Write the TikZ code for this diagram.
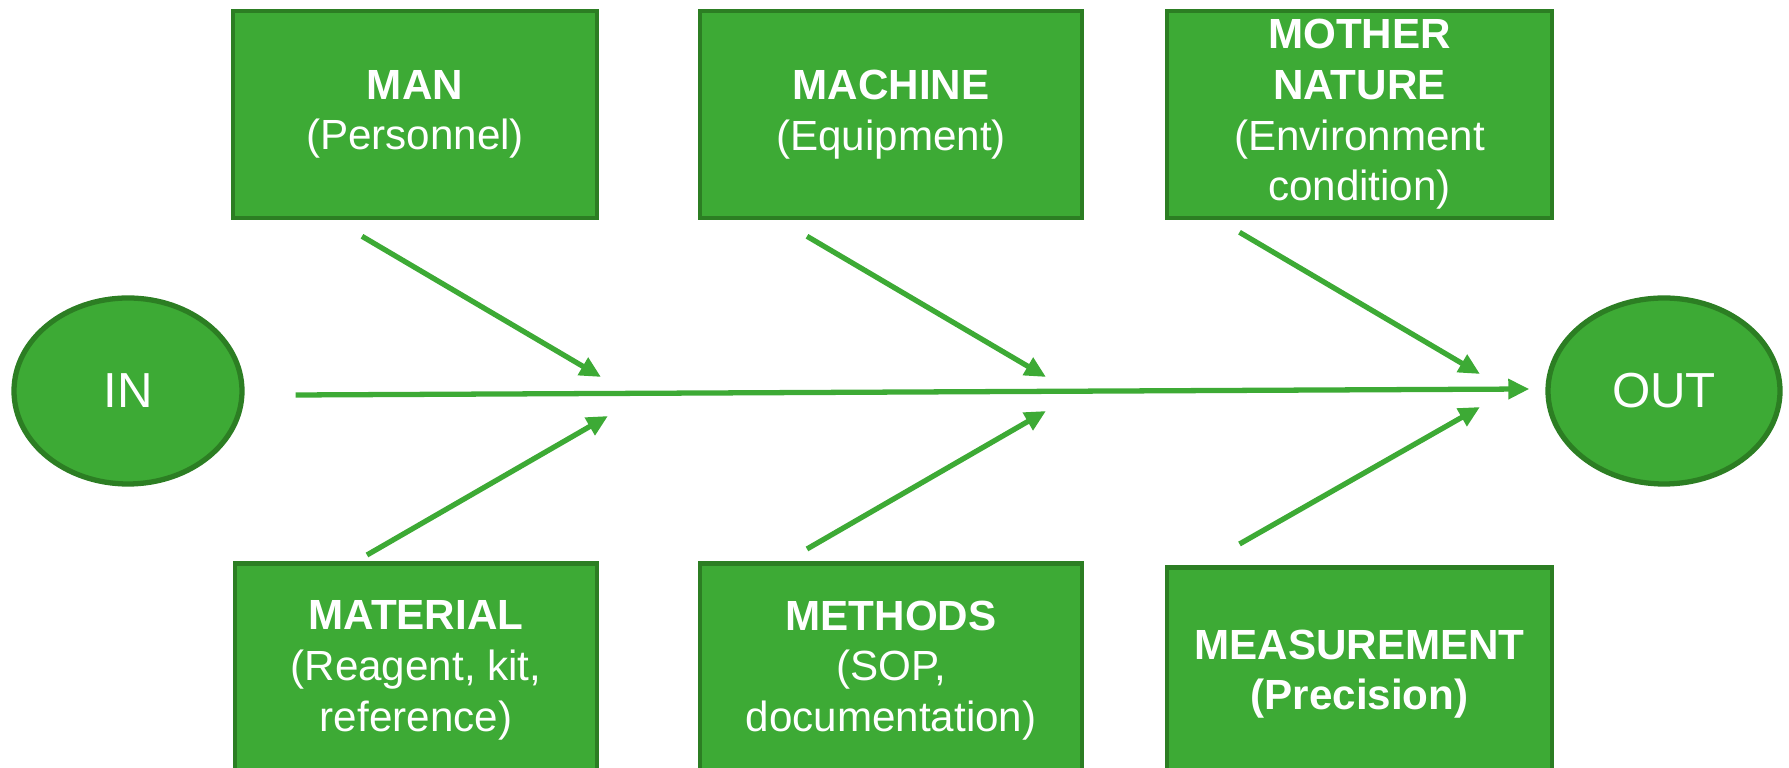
\documentclass[tikz,border=0pt]{standalone}
\usepackage{fontspec}
\setmainfont{Liberation Sans}
\usetikzlibrary{arrows.meta, positioning, shapes.geometric, calc}
\definecolor{cgreen}{HTML}{3DAA35}
\definecolor{cdark}{HTML}{2C7E23}
\tikzset{
  every picture/.style={font=\fontsize{12}{14.4}\selectfont, line width=1.1pt},
  cause/.style={draw=cdark, fill=cgreen, text=white, align=center, line width=1.3pt,
                inner sep=2pt, minimum width=#1, minimum height=2.07cm},
  cause/.default=3.64cm,
  endpt/.style={ellipse, draw=cdark, fill=cgreen, text=white, line width=1.5pt,
                minimum width=2.28cm, minimum height=1.86cm},
  arrow/.style={-{Triangle[length=6pt, width=5.5pt]}, draw=cgreen, line width=1.5pt},
}

\begin{document}
\begin{tikzpicture}
  \clip (0,0) rectangle (17.89,7.68);
  % head and tail of the fish
  \node[endpt] (in) at (1.28,3.77) {\fontsize{14}{16}\selectfont IN};
  \node[endpt, minimum width=2.32cm] (out) at (16.64,3.77) {\fontsize{14}{16}\selectfont OUT};
  \draw[arrow] ($(in.east)+(0.51,-0.04)$) coordinate (sp0) -- ($(out.west)+(-0.16,0.02)$) coordinate (sp1);

  % upper causes
  \node[cause=3.64cm] (man) at (4.15,6.535) {\textbf{MAN}\\(Personnel)};
  \node[cause=3.82cm] (mach) at (8.91,6.535) {\textbf{MACHINE}\\(Equipment)};
  \node[cause=3.85cm] (nat) at (13.595,6.535) {\textbf{MOTHER}\\\textbf{NATURE}\\(Environment\\condition)};

  % lower causes, cut off by the page edge
  \node[cause=3.62cm, anchor=north, minimum height=2.14cm] (mat) at (4.16,2.07)
    {\textbf{MATERIAL}\\(Reagent, kit,\\reference)};
  \node[cause=3.82cm, anchor=north, minimum height=2.14cm] (meth) at (8.91,2.07)
    {\textbf{METHODS}\\(SOP,\\documentation)};
  \node[cause=3.85cm, anchor=north, minimum height=2.14cm] (meas) at (13.595,2.03)
    {\textbf{MEASUREMENT}\\\textbf{(Precision)}};

  % ribs onto the spine
  \coordinate (h1) at (6.01,3.91);
  \coordinate (h2) at (10.46,3.91);
  \coordinate (h3) at (14.80,3.94);
  \coordinate (h4) at (6.08,3.52);
  \coordinate (h5) at (10.46,3.57);
  \coordinate (h6) at (14.80,3.61);
  \draw[arrow] ($(man.south)+(-0.53,-0.16)$) -- (h1);
  \draw[arrow] ($(mach.south)+(-0.84,-0.16)$) -- (h2);
  \draw[arrow] ($(nat.south)+(-1.20,-0.12)$) -- (h3);
  \draw[arrow] ($(mat.north)+(-0.49,0.06)$) -- (h4);
  \draw[arrow] ($(meth.north)+(-0.84,0.12)$) -- (h5);
  \draw[arrow] ($(meas.north)+(-1.20,0.21)$) -- (h6);
\end{tikzpicture}
\end{document}
